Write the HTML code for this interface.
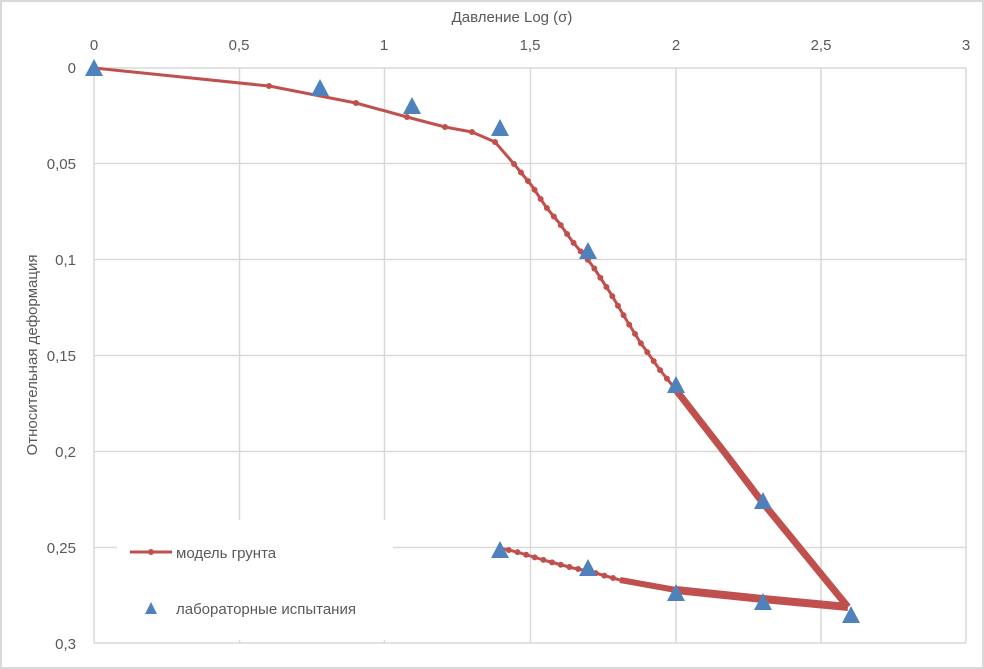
<!DOCTYPE html>
<html><head><meta charset="utf-8"><style>
html,body{margin:0;padding:0;background:#fff;}
svg{display:block;font-family:"Liberation Sans",sans-serif;}
</style></head><body>
<svg width="984" height="669" viewBox="0 0 984 669">
<rect x="1" y="1" width="982" height="667" fill="#fff" stroke="#d9d9d9" stroke-width="2"/>
<g stroke="#d9d9d9" stroke-width="1.5">
<line x1="94" y1="68" x2="966" y2="68"/><line x1="94" y1="163.5" x2="966" y2="163.5"/>
<line x1="94" y1="259.5" x2="966" y2="259.5"/><line x1="94" y1="355.5" x2="966" y2="355.5"/>
<line x1="94" y1="451.5" x2="966" y2="451.5"/><line x1="94" y1="547.5" x2="966" y2="547.5"/>
<line x1="94" y1="643" x2="966" y2="643"/>
<line x1="94" y1="68" x2="94" y2="643"/><line x1="239.5" y1="68" x2="239.5" y2="643"/>
<line x1="384.5" y1="68" x2="384.5" y2="643"/><line x1="530.5" y1="68" x2="530.5" y2="643"/>
<line x1="676" y1="68" x2="676" y2="643"/><line x1="821" y1="68" x2="821" y2="643"/>
<line x1="966" y1="68" x2="966" y2="643"/>
</g>
<g fill="#595959" font-size="15" text-anchor="middle">
<text x="94" y="50">0</text><text x="239" y="50">0,5</text><text x="384" y="50">1</text>
<text x="530" y="50">1,5</text><text x="676" y="50">2</text><text x="821" y="50">2,5</text><text x="966" y="50">3</text>
<text x="512" y="22">Давление Log (σ)</text>
</g>
<g fill="#595959" font-size="15" text-anchor="end">
<text x="76" y="73">0</text><text x="76" y="169">0,05</text><text x="76" y="265">0,1</text>
<text x="76" y="361">0,15</text><text x="76" y="457">0,2</text><text x="76" y="553">0,25</text><text x="76" y="649">0,3</text>
</g>
<text transform="translate(37,355) rotate(-90)" fill="#595959" font-size="15" text-anchor="middle">Относительная деформация</text>
<g fill="none" stroke="#c0504d" stroke-linejoin="round">
<polyline stroke-width="3" points="94,68 269,86 356,103 407,117 445,127 472,132 495,142 514,164 532,186 546,207 560,224 572,241 588,260 594,268 611,294 627,321 640,342 660,370 676,390"/>
<polyline stroke-width="7" points="676,390 725,453 763,503 848,607"/>
<polyline stroke-width="3" points="500,548 517,552 547,561 573,568 588,571 620,580"/>
<polyline stroke-width="6" points="620,580 676,590"/>
<polyline stroke-width="8" points="676,590 763,599 848,607"/>
<polyline stroke-width="6" stroke-linecap="round" stroke-dasharray="0 11" points="514,164 532,186 546,207 560,224 572,241 588,260 594,268 611,294 627,321 640,342 660,370 676,390"/>
<polyline stroke-width="6" stroke-linecap="round" stroke-dasharray="0 9" points="500,548 517,552 547,561 573,568 588,571 620,580"/>
</g>
<g fill="#c0504d">
<circle cx="269" cy="86" r="3"/><circle cx="356" cy="103" r="3"/><circle cx="407" cy="117" r="3"/>
<circle cx="445" cy="127" r="3"/><circle cx="472" cy="132" r="3"/><circle cx="495" cy="142" r="3"/>
</g>
<g fill="#4f81bd">
<polygon points="94,59 85,76 103,76"/><polygon points="320,79 311,96 329,96"/>
<polygon points="412,97 403,114 421,114"/><polygon points="500,119 491,136 509,136"/>
<polygon points="588,242 579,259 597,259"/><polygon points="676,376 667,393 685,393"/>
<polygon points="763,492 754,509 772,509"/><polygon points="500,541 491,558 509,558"/>
<polygon points="588,559 579,576 597,576"/><polygon points="676,584 667,601 685,601"/>
<polygon points="763,593 754,610 772,610"/><polygon points="851,606 842,623 860,623"/>
</g>
<rect x="117" y="520" width="276" height="120" fill="#fff"/>
<line x1="130" y1="552" x2="172" y2="552" stroke="#c0504d" stroke-width="3"/>
<circle cx="151" cy="552" r="3" fill="#c0504d"/>
<text x="176" y="558" fill="#595959" font-size="15">модель грунта</text>
<polygon points="151,602 145,614 157,614" fill="#4f81bd"/>
<text x="176" y="614" fill="#595959" font-size="15">лабораторные испытания</text>
</svg>
</body></html>
